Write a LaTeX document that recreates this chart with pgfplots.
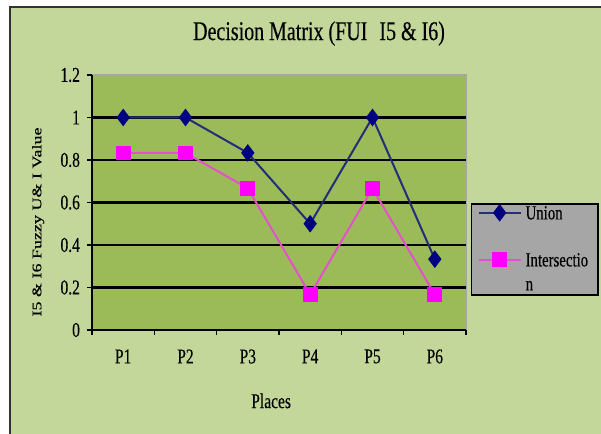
\documentclass[border=0pt]{standalone}
\usepackage{fontspec}
\setmainfont{Liberation Serif}
\newfontfamily\cfont[FakeStretch=0.74,FakeBold=0.3]{Liberation Serif}
\newfontfamily\rfont[FakeBold=0.3]{Liberation Serif}
\usepackage{pgfplots}
\pgfplotsset{compat=1.18}
\definecolor{bgout}{RGB}{196,215,155}
\definecolor{plotbg}{RGB}{155,187,89}
\definecolor{lgray}{RGB}{166,166,166}
\definecolor{navy}{RGB}{0,0,128}
\definecolor{navyline}{RGB}{35,45,120}
\definecolor{mag}{RGB}{255,0,255}
\definecolor{magline}{RGB}{228,80,205}
\begin{document}
\begin{tikzpicture}
\path[use as bounding box] (0,0) rectangle (300.5pt,217pt);
\fill[bgout] (5pt,0) rectangle (300.5pt,213.5pt);
\draw[black!80,line width=1pt] (5pt,0) -- (5pt,213.5pt) -- (300.5pt,213.5pt);
\begin{axis}[
  at={(46pt,52pt)}, anchor=south west,
  scale only axis, width=187pt, height=127.5pt,
  xmin=-0.5, xmax=5.5, ymin=0, ymax=1.2,
  enlargelimits=false,
  axis x line*=bottom, axis y line*=left,
  axis line style={black, line width=1.2pt},
  axis background/.style={fill=plotbg, draw=gray!70, line width=0.6pt},
  xtick={-0.5,0.5,1.5,2.5,3.5,4.5,5.5},
  xticklabels={P1,P2,P3,P4,P5,P6},
  x tick label as interval,
  ytick={0,0.2,0.4,0.6,0.8,1},
  extra y ticks={1.2},
  extra y tick style={grid=none},
  ymajorgrids, grid style={black, line width=1.2pt},
  tick align=outside, major tick length=2.5pt,
  tick style={black, line width=0.8pt},
  /pgf/number format/assume math mode=true,
  ticklabel style={font=\cfont\fontsize{10.5}{12}\selectfont},
  xticklabel style={yshift=-3.7pt},
  title={Decision Matrix (FUI\hspace{6pt}I5 \& I6)},
  title style={at={(axis description cs:0.607,1.09)}, anchor=base, font=\cfont\fontsize{13.5}{16}\selectfont},
  xlabel={Places},
  xlabel style={at={(axis description cs:0.479,-0.278)}, anchor=center, font=\cfont\fontsize{10.5}{12}\selectfont},
  ylabel={I5 \& I6 Fuzzy U\& I Value},
  ylabel style={at={(axis description cs:-0.144,0.4235)}, anchor=center, yscale=0.74, font=\rfont\fontsize{9}{11}\selectfont},
  legend style={at={(axis description cs:1.013,0.498)}, anchor=north west,
    fill=lgray, draw=black, line width=0.8pt,
    font=\cfont\fontsize{10}{13.5}\selectfont,
    cells={anchor=base west, inner ysep=1pt, text height=5.5pt, text depth=4pt},
    inner xsep=3pt, inner ysep=0.3pt, row sep=1pt},
  legend image code/.code={\draw[mark repeat=2,mark phase=2] plot coordinates {(0pt,3.3pt)(10.5pt,3.3pt)(21pt,3.3pt)};},
]
\addplot[navyline, line width=1pt, mark=diamond*, mark size=3.6pt, mark options={fill=navy, draw=navy, solid}]
  coordinates {(0,1)(1,1)(2,0.8333)(3,0.5)(4,1)(5,0.3333)};
\addlegendentry[text depth=13pt]{Union}
\addplot[magline, line width=1pt, mark=square*, mark size=3.2pt, mark options={fill=mag, draw=mag, solid}]
  coordinates {(0,0.8333)(1,0.8333)(2,0.6667)(3,0.1667)(4,0.6667)(5,0.1667)};
\addlegendentry{Intersectio}
\addlegendimage{empty legend}
\addlegendentry[text depth=0pt]{n}
\end{axis}
\end{tikzpicture}
\end{document}
